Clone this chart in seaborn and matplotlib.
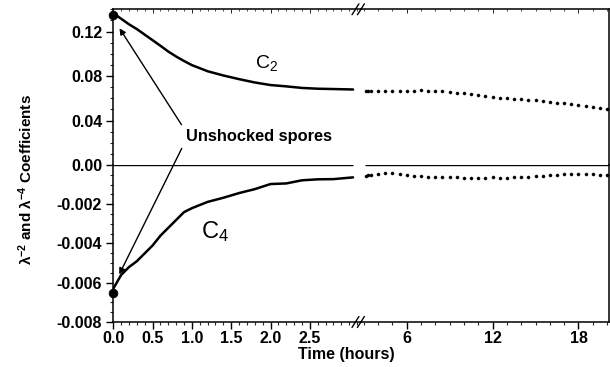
import matplotlib
matplotlib.use("Agg")
import matplotlib.pyplot as plt
from matplotlib.ticker import MultipleLocator, FormatStrFormatter
import seaborn as sns
import pandas as pd

sns.set_theme(style="white")
plt.rcParams['font.family'] = ['Liberation Sans', 'DejaVu Sans']
plt.rcParams['mathtext.default'] = 'regular'

# early times (0 - 3 h), dense measurement
t_early = [0.0, 0.1, 0.2, 0.3, 0.4, 0.5, 0.6, 0.7, 0.8, 0.9, 1.0,
           1.2, 1.4, 1.6, 1.8, 2.0, 2.2, 2.4, 2.6, 2.8, 3.05]
c2_early = [0.1365, 0.1315, 0.1265, 0.1222, 0.1172, 0.1122, 0.1072, 0.1020,
            0.0975, 0.0935, 0.0898, 0.0843, 0.0805, 0.0772, 0.0742, 0.0719,
            0.0707, 0.0693, 0.0686, 0.0683, 0.0679]
c4_early = [-0.0063, -0.0056, -0.0052, -0.0049, -0.0045, -0.0041, -0.0036,
            -0.0032, -0.0028, -0.0024, -0.0022, -0.00188, -0.00167, -0.00143,
            -0.00123, -0.00097, -0.00094, -0.00078, -0.00073, -0.00072, -0.00063]

# late times (3 - 20 h), sparse points
t_late = [3.15, 3.3, 3.5, 4.0, 4.5, 5.0, 5.5, 6.0, 6.5, 7.0, 7.5, 8.0, 8.5,
          9.0, 9.5, 10.0, 10.5, 11.0, 11.5, 12.0, 12.5, 13.0, 13.5, 14.0,
          14.5, 15.0, 15.5, 16.0, 16.5, 17.0, 17.5, 18.0, 18.5, 19.0, 19.5, 20.0]
c2_late = [0.0668, 0.0668, 0.0668, 0.0667, 0.0666, 0.0666, 0.0667, 0.0668,
           0.0669, 0.0670, 0.0669, 0.0667, 0.0663, 0.0657, 0.0650, 0.0644,
           0.0636, 0.0628, 0.0620, 0.0612, 0.0606, 0.0600, 0.0595, 0.0590,
           0.0586, 0.0580, 0.0574, 0.0567, 0.0560, 0.0554, 0.0547, 0.0540,
           0.0532, 0.0524, 0.0516, 0.0508]
c4_late = [-0.00055, -0.00053, -0.00052, -0.00046, -0.00043, -0.00042,
           -0.00044, -0.00050, -0.00055, -0.00058, -0.00060, -0.00060,
           -0.00061, -0.00062, -0.00063, -0.00065, -0.00067, -0.00066,
           -0.00064, -0.00063, -0.00065, -0.00066, -0.00062, -0.00060,
           -0.00059, -0.00058, -0.00056, -0.00053, -0.00050, -0.00048,
           -0.00046, -0.00045, -0.00044, -0.00046, -0.00049, -0.00051]

# unshocked spores (t = 0)
t_start = [0.0]
c2_start = [0.135]
c4_start = [-0.0065]

early = pd.DataFrame({"t": t_early, "c2": c2_early, "c4": c4_early})
late = pd.DataFrame({"t": t_late, "c2": c2_late, "c4": c4_late})

fig = plt.figure(figsize=(6.1, 3.67), dpi=100)
fig.patch.set_facecolor("white")
gs = fig.add_gridspec(2, 2, left=113.3 / 610, right=608.5 / 610,
                      top=1 - 9.3 / 367, bottom=1 - 322 / 367,
                      wspace=0, hspace=0, height_ratios=[155.7, 157])
ax_ul = fig.add_subplot(gs[0, 0])
ax_ur = fig.add_subplot(gs[0, 1], sharey=ax_ul)
ax_ll = fig.add_subplot(gs[1, 0], sharex=ax_ul)
ax_lr = fig.add_subplot(gs[1, 1], sharex=ax_ur, sharey=ax_ll)

lw = 1.1
for ax in (ax_ul, ax_ur, ax_ll, ax_lr):
    ax.set_facecolor("none")
    for s in ax.spines.values():
        s.set_color("black")
        s.set_linewidth(lw)

# left panels: the dense curves
sns.lineplot(data=early, x="t", y="c2", ax=ax_ul, color="black", lw=1.8)
sns.lineplot(data=early, x="t", y="c4", ax=ax_ll, color="black", lw=1.8)
sns.scatterplot(x=t_start, y=c2_start, ax=ax_ul, color="black", s=40,
                edgecolor="black", clip_on=False, zorder=5)
sns.scatterplot(x=t_start, y=c4_start, ax=ax_ll, color="black", s=40,
                edgecolor="black", clip_on=False, zorder=5)

# right panels: dotted points
sns.scatterplot(data=late, x="t", y="c2", ax=ax_ur, color="black", s=5,
                edgecolor="black", linewidth=0.3)
sns.scatterplot(data=late, x="t", y="c4", ax=ax_lr, color="black", s=5,
                edgecolor="black", linewidth=0.3)

# zero line
ax_ll.hlines(0, 0, 3.05, color="black", lw=1.0, zorder=4)
ax_lr.hlines(0, 3.1, 20.1, color="black", lw=1.0, zorder=4)

ax_ul.set_xlim(0, 3.15)
ax_ur.set_xlim(2.8, 20.1)
ax_ul.set_ylim(0, 0.14)
ax_ll.set_ylim(-0.008, 0)

# spines
ax_ul.spines["bottom"].set_visible(False)
ax_ur.spines["bottom"].set_visible(False)
ax_ll.spines["top"].set_visible(False)
ax_lr.spines["top"].set_visible(False)
ax_ul.spines["right"].set_visible(False)
ax_ll.spines["right"].set_visible(False)
ax_ur.spines["left"].set_visible(False)
ax_lr.spines["left"].set_visible(False)

tick_font = dict(labelsize=11.5, colors="black")
# y ticks
ax_ul.set_yticks([0.0, 0.04, 0.08, 0.12])
ax_ul.yaxis.set_major_formatter(FormatStrFormatter("%.2f"))
ax_ul.yaxis.set_minor_locator(MultipleLocator(0.01))
ax_ll.set_yticks([-0.008, -0.006, -0.004, -0.002])
ax_ll.yaxis.set_major_formatter(FormatStrFormatter("%.3f"))
ax_ll.yaxis.set_minor_locator(MultipleLocator(0.0005))
for ax in (ax_ul, ax_ll):
    ax.tick_params(axis="y", which="major", direction="out", length=5,
                   width=1.0, left=True, pad=3, **tick_font)
    ax.tick_params(axis="y", which="minor", direction="out", length=2.5,
                   width=0.8, left=True)
for ax in (ax_ur, ax_lr):
    ax.tick_params(axis="y", which="both", left=False, right=False,
                   labelleft=False)

# x ticks
ax_ll.set_xticks([0.0, 0.5, 1.0, 1.5, 2.0, 2.5])
ax_ll.xaxis.set_major_formatter(FormatStrFormatter("%.1f"))
ax_ll.xaxis.set_minor_locator(MultipleLocator(0.1))
ax_lr.set_xticks([6, 12, 18])
ax_lr.xaxis.set_minor_locator(MultipleLocator(1))
for ax in (ax_ll, ax_lr):
    ax.tick_params(axis="x", which="major", direction="out", length=5,
                   width=1.0, bottom=True, pad=1.5, **tick_font)
    ax.tick_params(axis="x", which="minor", direction="out", length=2.5,
                   width=0.8, bottom=True)
for ax in (ax_ul, ax_ur):
    ax.tick_params(axis="x", which="both", bottom=False, labelbottom=False,
                   top=True, direction="in")
    ax.tick_params(axis="x", which="major", length=3, width=0.7)
    ax.tick_params(axis="x", which="minor", length=1.5, width=0.6)

for ax in (ax_ul, ax_ur, ax_ll, ax_lr):
    ax.set_xlabel("")
    ax.set_ylabel("")
    for lab in ax.get_xticklabels() + ax.get_yticklabels():
        lab.set_fontweight("bold")

# break marks
for ax, yb in ((ax_ul, 1.0), (ax_ll, 0.0)):
    for dx in (-0.022, 0.0):
        ax.plot([1.0 + dx - 0.014, 1.0 + dx + 0.014],
                [yb - 0.035, yb + 0.035],
                transform=ax.transAxes, color="black", lw=1.0, clip_on=False)

# curve labels
ax_ul.text(1.95, 0.0913, r"$C_2$", fontsize=14, color="black", ha="center",
           va="center")
ax_ll.text(1.29, -0.0034, r"$C_4$", fontsize=17, color="black", ha="center",
           va="center")

# annotation
ax_ul.text(0.92, 0.0252, "Unshocked spores", fontsize=11.8, fontweight="bold",
           color="black", ha="left", va="center")
arrow = dict(arrowstyle="-|>", color="black", lw=1.0, mutation_scale=9)
ax_ul.annotate("", xy=(0.06, 0.125), xytext=(0.886, 0.0342),
               arrowprops=arrow)
ax_ll.annotate("", xy=(0.06, -0.0057), xycoords=ax_ll.transData,
               xytext=(0.886, 0.0171), textcoords=ax_ul.transData,
               arrowprops=arrow, annotation_clip=False)

fig.text(346 / 610, 1 - 355 / 367, "Time (hours)", ha="center", va="center",
         fontsize=11.5, fontweight="bold", color="black")
fig.text(26 / 610, 1 - 180 / 367,
         r"$\lambda^{-2}$ and $\lambda^{-4}$ Coefficients", rotation=90,
         ha="center", va="center", fontsize=11, fontweight="bold",
         color="black")

fig.savefig("out.png", dpi=100)
